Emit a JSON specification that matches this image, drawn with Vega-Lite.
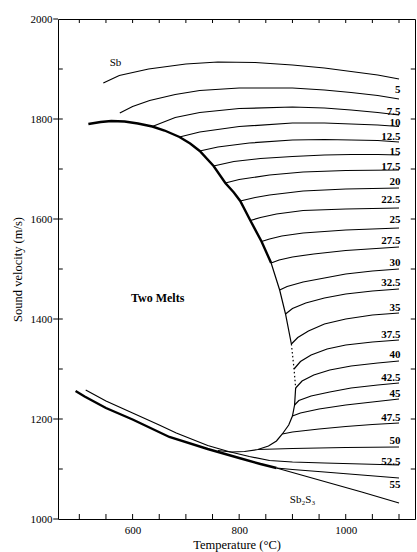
{
  "$schema": "https://vega.github.io/schema/vega-lite/v6.json",
  "width": 357,
  "height": 500,
  "autosize": {"type": "none"},
  "padding": {"left": 58, "top": 19, "right": 2, "bottom": 33},
  "background": "white",
  "config": {
    "view": {"stroke": "black", "strokeWidth": 1},
    "axis": {
      "grid": false,
      "labelFont": "Liberation Serif",
      "titleFont": "Liberation Serif",
      "labelFontSize": 11,
      "titleFontSize": 12.5,
      "titleFontWeight": "normal",
      "labelColor": "black",
      "titleColor": "black"
    }
  },
  "datasets": {
    "ticksX": [
      {"T": 500}, {"T": 550}, {"T": 600}, {"T": 650}, {"T": 700}, {"T": 750}, {"T": 800},
      {"T": 850}, {"T": 900}, {"T": 950}, {"T": 1000}, {"T": 1050}, {"T": 1100}
    ],
    "ticksY": [
      {"v": 1100}, {"v": 1200}, {"v": 1300}, {"v": 1400}, {"v": 1500},
      {"v": 1600}, {"v": 1700}, {"v": 1800}, {"v": 1900}
    ],
    "thick": [
      {"series": "dome", "T": 517, "v": 1790}, {"series": "dome", "T": 540, "v": 1794}, {"series": "dome", "T": 560, "v": 1796},
      {"series": "dome", "T": 585, "v": 1795}, {"series": "dome", "T": 610, "v": 1791}, {"series": "dome", "T": 637, "v": 1785},
      {"series": "dome", "T": 660, "v": 1777}, {"series": "dome", "T": 688, "v": 1764}, {"series": "dome", "T": 708, "v": 1751},
      {"series": "dome", "T": 726, "v": 1736}, {"series": "dome", "T": 752, "v": 1706}, {"series": "dome", "T": 774, "v": 1672},
      {"series": "dome", "T": 790, "v": 1653}, {"series": "dome", "T": 802, "v": 1636}, {"series": "dome", "T": 821, "v": 1597},
      {"series": "dome", "T": 842, "v": 1555}, {"series": "dome", "T": 860, "v": 1512},
      {"series": "low", "T": 493, "v": 1256}, {"series": "low", "T": 510, "v": 1245}, {"series": "low", "T": 550, "v": 1222},
      {"series": "low", "T": 600, "v": 1199}, {"series": "low", "T": 669, "v": 1164}, {"series": "low", "T": 741, "v": 1140},
      {"series": "low", "T": 800, "v": 1122}, {"series": "low", "T": 840, "v": 1110}, {"series": "low", "T": 870, "v": 1102}
    ],
    "dotted": [
      {"series": "dome", "T": 898, "v": 1350}, {"series": "dome", "T": 903, "v": 1300}, {"series": "dome", "T": 906, "v": 1262}
    ],
    "curves": [
      {"series": "Sb", "T": 545, "v": 1872}, {"series": "Sb", "T": 575, "v": 1887}, {"series": "Sb", "T": 630, "v": 1900},
      {"series": "Sb", "T": 700, "v": 1910}, {"series": "Sb", "T": 760, "v": 1914}, {"series": "Sb", "T": 830, "v": 1913},
      {"series": "Sb", "T": 900, "v": 1908}, {"series": "Sb", "T": 960, "v": 1902}, {"series": "Sb", "T": 1010, "v": 1895},
      {"series": "Sb", "T": 1060, "v": 1888}, {"series": "Sb", "T": 1100, "v": 1880},
      {"series": "5", "T": 576, "v": 1812}, {"series": "5", "T": 600, "v": 1825}, {"series": "5", "T": 632, "v": 1837},
      {"series": "5", "T": 680, "v": 1849}, {"series": "5", "T": 726, "v": 1857}, {"series": "5", "T": 800, "v": 1862},
      {"series": "5", "T": 900, "v": 1862}, {"series": "5", "T": 960, "v": 1858}, {"series": "5", "T": 1010, "v": 1853},
      {"series": "5", "T": 1060, "v": 1847}, {"series": "5", "T": 1100, "v": 1840},
      {"series": "7.5", "T": 637, "v": 1785}, {"series": "7.5", "T": 680, "v": 1803}, {"series": "7.5", "T": 726, "v": 1813},
      {"series": "7.5", "T": 800, "v": 1821}, {"series": "7.5", "T": 900, "v": 1824}, {"series": "7.5", "T": 960, "v": 1822},
      {"series": "7.5", "T": 1010, "v": 1818}, {"series": "7.5", "T": 1060, "v": 1813}, {"series": "7.5", "T": 1100, "v": 1808},
      {"series": "10", "T": 688, "v": 1764}, {"series": "10", "T": 726, "v": 1774}, {"series": "10", "T": 800, "v": 1785},
      {"series": "10", "T": 900, "v": 1792}, {"series": "10", "T": 960, "v": 1792}, {"series": "10", "T": 1010, "v": 1790},
      {"series": "10", "T": 1060, "v": 1788}, {"series": "10", "T": 1100, "v": 1785},
      {"series": "12.5", "T": 726, "v": 1736}, {"series": "12.5", "T": 760, "v": 1744}, {"series": "12.5", "T": 819, "v": 1752},
      {"series": "12.5", "T": 900, "v": 1758}, {"series": "12.5", "T": 960, "v": 1759}, {"series": "12.5", "T": 1010, "v": 1758},
      {"series": "12.5", "T": 1060, "v": 1757}, {"series": "12.5", "T": 1100, "v": 1754},
      {"series": "15", "T": 752, "v": 1706}, {"series": "15", "T": 790, "v": 1715}, {"series": "15", "T": 840, "v": 1721},
      {"series": "15", "T": 900, "v": 1725}, {"series": "15", "T": 960, "v": 1728}, {"series": "15", "T": 1010, "v": 1729},
      {"series": "15", "T": 1060, "v": 1729}, {"series": "15", "T": 1100, "v": 1728},
      {"series": "17.5", "T": 774, "v": 1672}, {"series": "17.5", "T": 800, "v": 1679}, {"series": "17.5", "T": 857, "v": 1688},
      {"series": "17.5", "T": 920, "v": 1694}, {"series": "17.5", "T": 1000, "v": 1697}, {"series": "17.5", "T": 1100, "v": 1698},
      {"series": "20", "T": 802, "v": 1636}, {"series": "20", "T": 830, "v": 1643}, {"series": "20", "T": 857, "v": 1648},
      {"series": "20", "T": 920, "v": 1656}, {"series": "20", "T": 1000, "v": 1660}, {"series": "20", "T": 1100, "v": 1662},
      {"series": "22.5", "T": 821, "v": 1597}, {"series": "22.5", "T": 840, "v": 1603}, {"series": "22.5", "T": 870, "v": 1610},
      {"series": "22.5", "T": 920, "v": 1617}, {"series": "22.5", "T": 1000, "v": 1620}, {"series": "22.5", "T": 1100, "v": 1622},
      {"series": "25", "T": 842, "v": 1555}, {"series": "25", "T": 857, "v": 1560}, {"series": "25", "T": 880, "v": 1566},
      {"series": "25", "T": 920, "v": 1572}, {"series": "25", "T": 1000, "v": 1578}, {"series": "25", "T": 1100, "v": 1582},
      {"series": "27.5", "T": 860, "v": 1512}, {"series": "27.5", "T": 875, "v": 1518}, {"series": "27.5", "T": 900, "v": 1524},
      {"series": "27.5", "T": 940, "v": 1530}, {"series": "27.5", "T": 1000, "v": 1537}, {"series": "27.5", "T": 1100, "v": 1544},
      {"series": "30", "T": 876, "v": 1458}, {"series": "30", "T": 890, "v": 1465}, {"series": "30", "T": 920, "v": 1474},
      {"series": "30", "T": 960, "v": 1482}, {"series": "30", "T": 1000, "v": 1490}, {"series": "30", "T": 1050, "v": 1496},
      {"series": "30", "T": 1100, "v": 1500},
      {"series": "32.5", "T": 887, "v": 1410}, {"series": "32.5", "T": 900, "v": 1421}, {"series": "32.5", "T": 925, "v": 1432},
      {"series": "32.5", "T": 960, "v": 1442}, {"series": "32.5", "T": 1000, "v": 1450}, {"series": "32.5", "T": 1050, "v": 1456},
      {"series": "32.5", "T": 1100, "v": 1460},
      {"series": "35", "T": 898, "v": 1350}, {"series": "35", "T": 910, "v": 1363}, {"series": "35", "T": 930, "v": 1376},
      {"series": "35", "T": 960, "v": 1390}, {"series": "35", "T": 1000, "v": 1400}, {"series": "35", "T": 1050, "v": 1408},
      {"series": "35", "T": 1100, "v": 1412},
      {"series": "37.5", "T": 903, "v": 1300}, {"series": "37.5", "T": 915, "v": 1315}, {"series": "37.5", "T": 935, "v": 1328},
      {"series": "37.5", "T": 965, "v": 1340}, {"series": "37.5", "T": 1000, "v": 1348}, {"series": "37.5", "T": 1050, "v": 1354},
      {"series": "37.5", "T": 1100, "v": 1358},
      {"series": "40", "T": 906, "v": 1262}, {"series": "40", "T": 918, "v": 1276}, {"series": "40", "T": 940, "v": 1288},
      {"series": "40", "T": 970, "v": 1298}, {"series": "40", "T": 1010, "v": 1306}, {"series": "40", "T": 1060, "v": 1312},
      {"series": "40", "T": 1100, "v": 1316},
      {"series": "42.5", "T": 904, "v": 1228}, {"series": "42.5", "T": 912, "v": 1237}, {"series": "42.5", "T": 935, "v": 1246},
      {"series": "42.5", "T": 970, "v": 1254}, {"series": "42.5", "T": 1010, "v": 1262}, {"series": "42.5", "T": 1060, "v": 1268},
      {"series": "42.5", "T": 1100, "v": 1272},
      {"series": "45", "T": 900, "v": 1206}, {"series": "45", "T": 915, "v": 1212}, {"series": "45", "T": 950, "v": 1220},
      {"series": "45", "T": 1000, "v": 1228}, {"series": "45", "T": 1050, "v": 1234}, {"series": "45", "T": 1100, "v": 1240},
      {"series": "47.5", "T": 881, "v": 1170}, {"series": "47.5", "T": 900, "v": 1174}, {"series": "47.5", "T": 950, "v": 1180},
      {"series": "47.5", "T": 1000, "v": 1185}, {"series": "47.5", "T": 1050, "v": 1189}, {"series": "47.5", "T": 1100, "v": 1192},
      {"series": "50", "T": 835, "v": 1139}, {"series": "50", "T": 900, "v": 1141}, {"series": "50", "T": 1000, "v": 1143},
      {"series": "50", "T": 1100, "v": 1144},
      {"series": "52.5", "T": 512, "v": 1258}, {"series": "52.5", "T": 550, "v": 1236}, {"series": "52.5", "T": 600, "v": 1212},
      {"series": "52.5", "T": 650, "v": 1188}, {"series": "52.5", "T": 682, "v": 1172}, {"series": "52.5", "T": 741, "v": 1147},
      {"series": "52.5", "T": 780, "v": 1135}, {"series": "52.5", "T": 819, "v": 1125}, {"series": "52.5", "T": 857, "v": 1117},
      {"series": "52.5", "T": 900, "v": 1114}, {"series": "52.5", "T": 960, "v": 1112}, {"series": "52.5", "T": 1030, "v": 1110},
      {"series": "52.5", "T": 1100, "v": 1108},
      {"series": "55", "T": 870, "v": 1102}, {"series": "55", "T": 900, "v": 1099}, {"series": "55", "T": 960, "v": 1094},
      {"series": "55", "T": 1030, "v": 1088}, {"series": "55", "T": 1100, "v": 1082},
      {"series": "Sb2S3", "T": 870, "v": 1102}, {"series": "Sb2S3", "T": 900, "v": 1093}, {"series": "Sb2S3", "T": 960, "v": 1075},
      {"series": "Sb2S3", "T": 1030, "v": 1054}, {"series": "Sb2S3", "T": 1100, "v": 1032},
      {"series": "domeMid", "T": 860, "v": 1512}, {"series": "domeMid", "T": 876, "v": 1458}, {"series": "domeMid", "T": 887, "v": 1410},
      {"series": "domeMid", "T": 898, "v": 1350},
      {"series": "domeLow", "T": 760, "v": 1137}, {"series": "domeLow", "T": 785, "v": 1134}, {"series": "domeLow", "T": 810, "v": 1135},
      {"series": "domeLow", "T": 835, "v": 1139}, {"series": "domeLow", "T": 855, "v": 1146}, {"series": "domeLow", "T": 870, "v": 1156},
      {"series": "domeLow", "T": 881, "v": 1170}, {"series": "domeLow", "T": 893, "v": 1188}, {"series": "domeLow", "T": 900, "v": 1206},
      {"series": "domeLow", "T": 904, "v": 1228}, {"series": "domeLow", "T": 906, "v": 1262}
    ],
    "labels": [
      {"label": "5", "T": 1103, "v": 1858}, {"label": "7.5", "T": 1103, "v": 1814}, {"label": "10", "T": 1103, "v": 1792},
      {"label": "12.5", "T": 1103, "v": 1764}, {"label": "15", "T": 1103, "v": 1734}, {"label": "17.5", "T": 1103, "v": 1704},
      {"label": "20", "T": 1103, "v": 1674}, {"label": "22.5", "T": 1103, "v": 1638}, {"label": "25", "T": 1103, "v": 1598},
      {"label": "27.5", "T": 1103, "v": 1556}, {"label": "30", "T": 1103, "v": 1512}, {"label": "32.5", "T": 1103, "v": 1472},
      {"label": "35", "T": 1103, "v": 1422}, {"label": "37.5", "T": 1103, "v": 1368}, {"label": "40", "T": 1103, "v": 1328},
      {"label": "42.5", "T": 1103, "v": 1282}, {"label": "45", "T": 1103, "v": 1250}, {"label": "47.5", "T": 1103, "v": 1202},
      {"label": "50", "T": 1103, "v": 1156}, {"label": "52.5", "T": 1103, "v": 1114}, {"label": "55", "T": 1103, "v": 1068}
    ],
    "notes": [
      {"label": "Sb", "T": 568, "v": 1912},
      {"label": "Sb₂S₃", "T": 919, "v": 1038}
    ]
  },
  "layer": [
    {
      "data": {"name": "thick"},
      "mark": {"type": "line", "color": "black", "strokeWidth": 2.4},
      "encoding": {
        "x": {
          "field": "T", "type": "quantitative",
          "scale": {"domain": [460, 1130], "nice": false, "zero": false},
          "axis": {
            "orient": "bottom",
            "title": "Temperature (°C)",
            "values": [600, 800, 1000],
            "format": "d",
            "domain": false,
            "ticks": false,
            "labelPadding": 5,
            "titlePadding": 3
          }
        },
        "y": {
          "field": "v", "type": "quantitative",
          "scale": {"domain": [1000, 2000], "nice": false, "zero": false},
          "axis": {
            "orient": "left",
            "title": "Sound velocity (m/s)",
            "values": [1000, 1200, 1400, 1600, 1800, 2000],
            "format": "d",
            "domain": false,
            "ticks": false,
            "labelPadding": 6,
            "titlePadding": 6
          }
        },
        "detail": {"field": "series"}
      }
    },
    {
      "data": {"name": "curves"},
      "mark": {"type": "line", "color": "black", "strokeWidth": 1.2},
      "encoding": {
        "x": {"field": "T", "type": "quantitative"},
        "y": {"field": "v", "type": "quantitative"},
        "detail": {"field": "series"}
      }
    },
    {
      "data": {"name": "dotted"},
      "mark": {"type": "line", "color": "black", "strokeWidth": 1.2, "strokeDash": [1.5, 2.5]},
      "encoding": {
        "x": {"field": "T", "type": "quantitative"},
        "y": {"field": "v", "type": "quantitative"},
        "detail": {"field": "series"}
      }
    },
    {
      "data": {"name": "ticksX"},
      "mark": {"type": "rule", "color": "black", "strokeWidth": 1},
      "encoding": {
        "x": {"field": "T", "type": "quantitative"},
        "y": {"datum": 1000, "type": "quantitative"},
        "y2": {"datum": 1010}
      }
    },
    {
      "data": {"name": "ticksX"},
      "mark": {"type": "rule", "color": "black", "strokeWidth": 1},
      "encoding": {
        "x": {"field": "T", "type": "quantitative"},
        "y": {"datum": 2000, "type": "quantitative"},
        "y2": {"datum": 1992}
      }
    },
    {
      "data": {"name": "ticksY"},
      "mark": {"type": "rule", "color": "black", "strokeWidth": 1},
      "encoding": {
        "y": {"field": "v", "type": "quantitative"},
        "x": {"datum": 460, "type": "quantitative"},
        "x2": {"datum": 469}
      }
    },
    {
      "data": {"values": [{"v": 1000}, {"v": 1200}, {"v": 1400}, {"v": 1600}, {"v": 1800}, {"v": 2000}]},
      "mark": {"type": "rule", "color": "black", "strokeWidth": 1},
      "encoding": {
        "y": {"field": "v", "type": "quantitative"},
        "x": {"datum": 460, "type": "quantitative"},
        "x2": {"datum": 451}
      }
    },
    {
      "data": {"name": "ticksY"},
      "mark": {"type": "rule", "color": "black", "strokeWidth": 1},
      "encoding": {
        "y": {"field": "v", "type": "quantitative"},
        "x": {"datum": 1130, "type": "quantitative"},
        "x2": {"datum": 1122}
      }
    },
    {
      "data": {"name": "labels"},
      "mark": {"type": "text", "font": "Liberation Serif", "fontSize": 11, "fontWeight": "bold", "align": "right", "baseline": "middle", "color": "black"},
      "encoding": {
        "x": {"field": "T", "type": "quantitative"},
        "y": {"field": "v", "type": "quantitative"},
        "text": {"field": "label"}
      }
    },
    {
      "data": {"name": "notes"},
      "mark": {"type": "text", "font": "Liberation Serif", "fontSize": 11, "align": "center", "baseline": "middle", "color": "black"},
      "encoding": {
        "x": {"field": "T", "type": "quantitative"},
        "y": {"field": "v", "type": "quantitative"},
        "text": {"field": "label"}
      }
    },
    {
      "data": {"values": [{"label": "Two Melts", "T": 647, "v": 1442}]},
      "mark": {"type": "text", "font": "Liberation Serif", "fontSize": 12, "fontWeight": "bold", "align": "center", "baseline": "middle", "color": "black"},
      "encoding": {
        "x": {"field": "T", "type": "quantitative"},
        "y": {"field": "v", "type": "quantitative"},
        "text": {"field": "label"}
      }
    }
  ]
}
